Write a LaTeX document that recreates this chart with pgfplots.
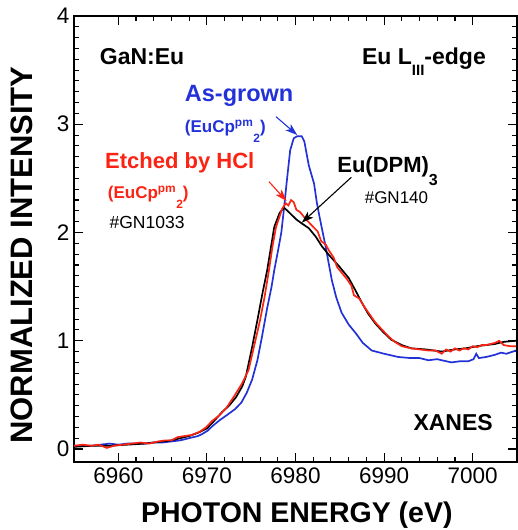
\documentclass[border=0pt]{standalone}
\usepackage{pgfplots}
\pgfplotsset{compat=1.18}
\usepackage{fontspec}
\setmainfont{Liberation Sans}
\usetikzlibrary{arrows.meta}

\definecolor{cblue}{RGB}{35,50,215}
\definecolor{cred}{RGB}{250,35,20}

\newcommand{\fs}[1]{\fontsize{#1}{#1}\selectfont}

\begin{document}
\begin{tikzpicture}
\path[use as bounding box] (-74pt,-68pt) rectangle (444pt,462pt);
\begin{axis}[
    at={(0,0)}, anchor=south west,
    scale only axis,
    width=443pt, height=446pt,
    xmin=6955, xmax=7005,
    ymin=-0.12, ymax=4,
    xtick={6960,6970,...,7000},
    ytick={0,1,2,3,4},
    minor x tick num=4,
    minor y tick num=9,
    tick align=inside,
    major tick length=9pt,
    minor tick length=5pt,
    every tick/.style={black, line width=1.1pt},
    axis line style={line width=1.6pt},
    ticklabel style={font=\fs{22.5}},
    /pgf/number format/assume math mode=true,
    /pgf/number format/1000 sep={},
    xticklabel style={yshift=-2pt},
    yticklabel style={xshift=-1pt},
    clip=false,
]
\addplot[cblue, line width=1.7pt] coordinates {
(6955,0.03)(6956,0.03)(6957,0.03)(6958,0.04)(6959,0.05)(6960,0.04)(6961,0.05)(6962,0.05)(6963,0.05)(6964,0.06)(6965,0.06)(6966,0.07)(6967,0.08)(6968,0.10)(6969,0.12)(6969.5,0.14)(6970.1,0.17)(6970.6,0.21)(6971.5,0.27)(6972.2,0.31)(6973.2,0.37)(6973.9,0.43)(6974.5,0.52)(6975.1,0.64)(6975.7,0.82)(6976.2,1.03)(6976.8,1.30)(6977.3,1.50)(6977.6,1.65)(6978.0,1.82)(6978.4,2.00)(6978.7,2.22)(6979.0,2.46)(6979.4,2.76)(6979.8,2.87)(6980.2,2.89)(6980.7,2.89)(6981.0,2.84)(6981.5,2.62)(6982.1,2.45)(6982.4,2.28)(6982.7,2.15)(6983.4,1.87)(6984.1,1.56)(6984.6,1.40)(6985.2,1.26)(6986.0,1.15)(6986.8,1.07)(6987.6,0.98)(6988.6,0.91)(6990,0.88)(6991.6,0.85)(6993,0.84)(6994,0.84)(6995,0.82)(6996,0.83)(6996.5,0.82)(6997.6,0.80)(6998.5,0.81)(6999.5,0.81)(7000.1,0.83)(7000.4,0.88)(7000.7,0.84)(7001.5,0.85)(7002.5,0.87)(7003.2,0.89)(7003.8,0.88)(7004.9,0.91)
};
\addplot[black, line width=1.7pt] coordinates {
(6955,0.02)(6957,0.03)(6959,0.03)(6961,0.04)(6963,0.05)(6965,0.07)(6966,0.08)(6967,0.10)(6968,0.12)(6969,0.15)(6970,0.19)(6970.6,0.24)(6971.7,0.34)(6972.5,0.40)(6973.3,0.48)(6974.0,0.58)(6974.4,0.67)(6975.1,0.94)(6975.7,1.19)(6976.3,1.45)(6976.8,1.65)(6977.2,1.85)(6977.6,2.05)(6978.2,2.18)(6978.7,2.23)(6979.1,2.20)(6979.6,2.16)(6980.1,2.12)(6980.6,2.09)(6981.5,2.04)(6982.3,1.96)(6983.0,1.87)(6983.8,1.79)(6984.9,1.69)(6986.0,1.58)(6986.8,1.46)(6987.5,1.35)(6988.2,1.25)(6989.0,1.16)(6989.9,1.08)(6990.8,1.01)(6992,0.96)(6993.1,0.93)(6994.7,0.92)(6996.5,0.90)(6998,0.92)(6999.2,0.93)(7000.5,0.95)(7001.5,0.96)(7002.5,0.97)(7003.5,0.99)(7004.9,1.00)
};
\addplot[cred, line width=1.7pt] coordinates {
(6955,0.03)(6956,0.04)(6957,0.03)(6957.8,0.04)(6958.7,0.01)(6959.5,0.03)(6960.5,0.04)(6961.5,0.05)(6962.5,0.06)(6963.5,0.05)(6964.5,0.07)(6965.3,0.08)(6966,0.08)(6966.7,0.11)(6967.5,0.12)(6968.3,0.13)(6969.2,0.16)(6969.9,0.20)(6970.6,0.26)(6971.4,0.31)(6972.2,0.38)(6973.1,0.49)(6974,0.61)(6974.7,0.73)(6975.3,0.94)(6976.0,1.19)(6976.5,1.40)(6977.0,1.65)(6977.4,1.87)(6977.8,2.05)(6978.5,2.22)(6978.9,2.27)(6979.2,2.25)(6979.5,2.30)(6979.8,2.28)(6980.1,2.21)(6980.5,2.19)(6981.2,2.12)(6981.9,2.06)(6982.5,2.01)(6982.9,1.92)(6983.4,1.89)(6983.8,1.83)(6984.3,1.77)(6984.7,1.68)(6985.2,1.63)(6985.8,1.57)(6986.3,1.51)(6986.6,1.42)(6987.2,1.39)(6987.8,1.31)(6988.4,1.24)(6989,1.17)(6989.8,1.10)(6990.5,1.04)(6991.2,0.99)(6992,0.95)(6993,0.93)(6994,0.92)(6995,0.91)(6995.8,0.91)(6996.5,0.88)(6997,0.92)(6997.5,0.90)(6998,0.93)(6998.5,0.91)(6999,0.93)(6999.5,0.92)(7000,0.95)(7000.5,0.94)(7001,0.96)(7001.5,0.96)(7002.5,0.98)(7003,1.00)(7003.5,0.96)(7004.2,0.95)(7004.9,0.95)
};

% arrows
\draw[cblue, line width=1.1pt, -{Stealth[length=12pt,width=8pt,inset=3pt]}] (axis cs:6977.8,3.07) -- (axis cs:6980.2,2.90);
\draw[cred, line width=1.1pt, -{Stealth[length=12pt,width=8pt,inset=3pt]}] (axis cs:6977.0,2.47) -- (axis cs:6979.0,2.29);
\draw[black, line width=1.1pt, -{Stealth[length=12pt,width=8pt,inset=3pt]}] (axis cs:6986.3,2.51) -- (axis cs:6980.7,2.09);

% annotations
\begin{scope}[every node/.style={inner sep=0pt, anchor=base west}]
\node at (axis cs:6957.9,3.556) {\fs{23}\bfseries GaN:Eu};
\node at (axis cs:6987.5,3.556) {\fs{23}\bfseries Eu L\raisebox{-0.5em}{\fs{15}III}-edge};
\node[cblue] at (axis cs:6967.5,3.21) {\fs{23.5}\bfseries As-grown};
\node[cblue] at (axis cs:6967.5,2.92) {\fs{17}\bfseries (EuCp\textsuperscript{pm}\raisebox{-0.55em}{\fs{12}2})};
\node[cred] at (axis cs:6958.5,2.59) {\fs{22}\bfseries Etched by HCl};
\node[cred] at (axis cs:6958.8,2.31) {\fs{17}\bfseries (EuCp\textsuperscript{pm}\raisebox{-0.55em}{\fs{12}2})};
\node at (axis cs:6959.0,2.04) {\fs{17.5}\#GN1033};
\node at (axis cs:6984.7,2.55) {\fs{22}\bfseries Eu(DPM)\raisebox{-0.55em}{\fs{16}3}};
\node at (axis cs:6987.8,2.27) {\fs{17}\#GN140};
\node at (axis cs:6993.3,0.175) {\fs{23}\bfseries XANES};
\end{scope}

% axis titles
\node[anchor=base, inner sep=0pt] at (rel axis cs:0.503,-0.136) {\fs{28.5}\bfseries PHOTON ENERGY (eV)};
\node[anchor=base, rotate=90, inner sep=0pt] at (rel axis cs:-0.0948,0.464) {\fs{31}\bfseries NORMALIZED INTENSITY};
\end{axis}
\end{tikzpicture}
\end{document}
